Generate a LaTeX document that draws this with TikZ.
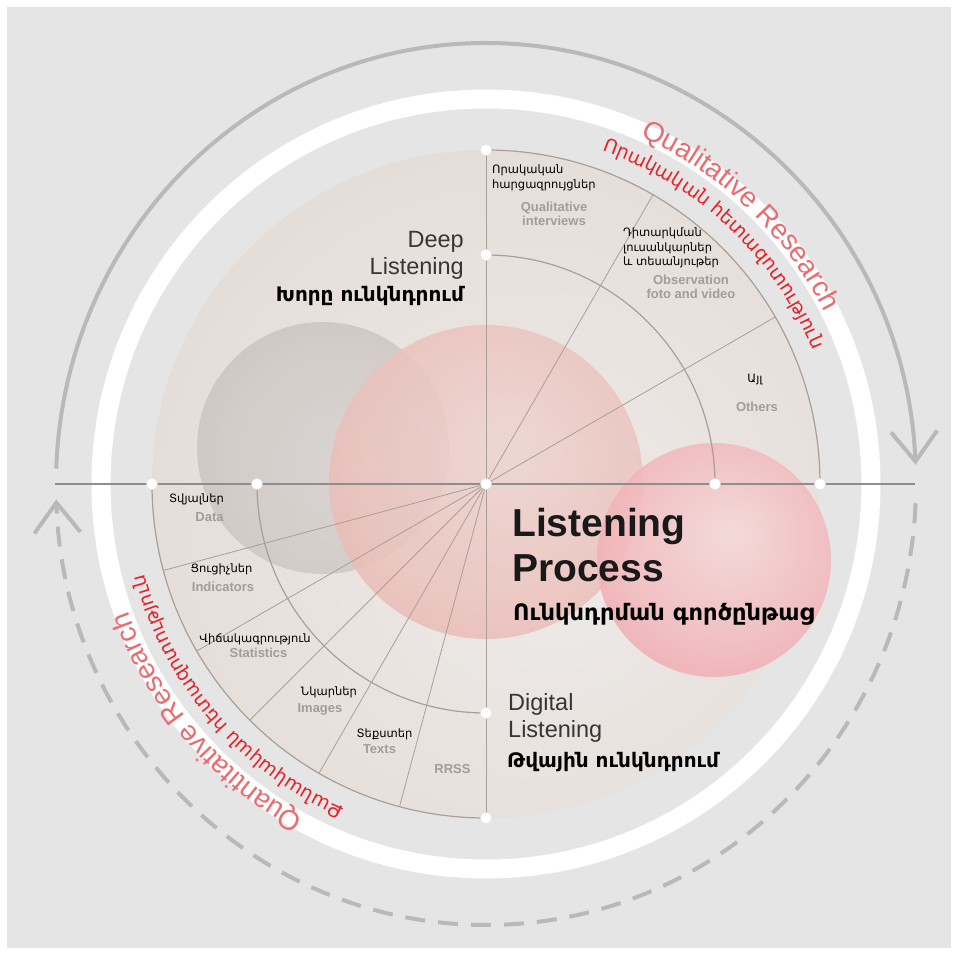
\documentclass[tikz,border=0pt]{standalone}
\usepackage{fontspec}
\setmainfont{Liberation Sans}
\newfontfamily\armfont{DejaVu Sans}
\usetikzlibrary{arrows.meta}
\usetikzlibrary{decorations.text}

\definecolor{bgGray}{HTML}{E5E5E5}
\definecolor{arcGray}{HTML}{B9B9B9}
\definecolor{axisGray}{HTML}{8E8E8E}
\definecolor{rayCol}{HTML}{AA9F97}
\definecolor{enGray}{HTML}{A39C97}
\definecolor{ttlGray}{HTML}{363636}
\definecolor{qualRed}{HTML}{EA6B70}
\definecolor{armRed}{HTML}{E62129}

\pgfdeclareradialshading{diskshade}{\pgfpoint{6bp}{-6bp}}{rgb(0bp)=(0.93,0.92,0.91); rgb(20bp)=(0.91,0.885,0.87); rgb(40bp)=(0.875,0.84,0.815); rgb(50bp)=(0.85,0.81,0.785)}
\pgfdeclareradialshading{graybub}{\pgfpoint{6bp}{-4bp}}{rgb(0bp)=(0.85,0.83,0.82); rgb(22bp)=(0.82,0.795,0.785); rgb(50bp)=(0.74,0.71,0.69)}
\pgfdeclareradialshading{pinkbub}{\pgfpoint{4bp}{6bp}}{rgb(0bp)=(0.935,0.835,0.815); rgb(24bp)=(0.925,0.76,0.74); rgb(50bp)=(0.89,0.61,0.60)}
\pgfdeclareradialshading{redbub}{\pgfpoint{4bp}{6bp}}{rgb(0bp)=(0.965,0.85,0.85); rgb(22bp)=(0.95,0.73,0.745); rgb(50bp)=(0.925,0.54,0.58)}

\begin{document}
\begin{tikzpicture}[x=1pt, y=1pt,
    wdot/.style={circle, fill=white, draw=black!8, line width=0.3pt, inner sep=0pt, minimum size=11pt},
    rayline/.style={draw=rayCol, line width=0.8pt},
    rimline/.style={draw=rayCol, line width=1.2pt},
    axisline/.style={draw=axisGray, line width=1.8pt},
    garrow/.style={draw=arcGray, line width=4pt, -{Straight Barb[length=30pt, width=46pt]}},
    ttl/.style={font=\fontsize{23.5}{27}\selectfont, text=ttlGray, inner sep=0pt},
    amttl/.style={font=\armfont\bfseries\fontsize{20}{22}\selectfont, inner sep=0pt},
    amlbl/.style={font=\armfont\fontsize{11.5}{14.5}\selectfont, inner sep=0pt, align=left},
    enlbl/.style={font=\bfseries\fontsize{13}{14}\selectfont, text=enGray, inner sep=0pt, align=center}
  ]
  \useasboundingbox (-486,-471) rectangle (471,484);
  \fill[white] (-486,-471) rectangle (471,484);
  \fill[bgGray] (-479,-464) rectangle (465,477);

  % ring and cycle arrows
  \draw[white, line width=19pt] (0,0) circle[radius=385];
  \draw[garrow] (178:430 and 441) arc[start angle=178, end angle=2.5, x radius=430, y radius=441];
  \draw[garrow, dash pattern=on 20pt off 13pt] (-2.5:430 and 441) arc[start angle=-2.5, end angle=-178, x radius=430, y radius=441];

  % disk and bubbles
  \shade[shading=diskshade] (0,0) circle[radius=334];
  \shade[shading=graybub, opacity=0.9] (-163,36) circle[radius=126];
  \shade[shading=pinkbub, opacity=0.85] (0,2) circle[radius=157];
  \shade[shading=redbub, opacity=0.88] (228,-76) circle[radius=117];

  \coordinate (ctr) at (0,0);
  \coordinate (qTop) at (90:334);
  \coordinate (qIn) at (90:229);
  \coordinate (rOut) at (0:334);
  \coordinate (rIn) at (0:229);
  \coordinate (lOut) at (180:334);
  \coordinate (lIn) at (180:229);
  \coordinate (bOut) at (270:334);
  \coordinate (bIn) at (270:229);
  \coordinate (axL) at (-431,0);
  \coordinate (axR) at (429,0);

  \draw[rayline] (qTop) -- (bOut);
  \foreach \a in {30,60,195,210,225,240,255} {
    \coordinate (ray\a) at (\a:334);
    \draw[rayline] (ctr) -- (ray\a);
  }
  \draw[rimline] (rOut) arc[start angle=0, end angle=90, radius=334];
  \draw[rimline] (rIn) arc[start angle=0, end angle=90, radius=229];
  \draw[rimline] (lOut) arc[start angle=180, end angle=270, radius=334];
  \draw[rimline] (lIn) arc[start angle=180, end angle=270, radius=229];
  \draw[axisline] (axL) -- (axR);
  \foreach \p in {ctr,qTop,qIn,rOut,rIn,lOut,lIn,bOut,bIn}
    \node[wdot] (d\p) at (\p) {};

  % titles
  \node[ttl, align=right, anchor=north east] (deep) at (-22,253) {Deep\\Listening};
  \node[amttl, anchor=east] (deepAm) at (-22,188) {Խորը ունկնդրում};
  \node[ttl, font=\bfseries\fontsize{39}{45}\selectfont, text=black!90, align=left, anchor=north west] (proc) at (26,-24) {Listening\\Process};
  \node[amttl, font=\armfont\bfseries\fontsize{22.6}{24}\selectfont, anchor=west] (procAm) at (27,-130) {Ունկնդրման գործընթաց};
  \node[ttl, align=left, anchor=north west] (dig) at (22,-209) {Digital\\Listening};
  \node[amttl, anchor=west] (digAm) at (21,-278) {Թվային ունկնդրում};

  % sector labels
  \node[amlbl, anchor=north west] (qiAm) at (6,319) {Որակական\\հարցազրույցներ};
  \node[enlbl, anchor=north] (qiEn) at (68,282) {Qualitative\\interviews};
  \node[amlbl, anchor=north west] (obAm) at (137,256) {Դիտարկման\\լուսանկարներ\\և տեսանյութեր};
  \node[enlbl, anchor=north] (obEn) at (205,209) {Observation\\foto and video};
  \node[amlbl] (otAm) at (269,104) {Այլ};
  \node[enlbl] (otEn) at (271,77) {Others};
  \node[amlbl] (daAm) at (-289.5,-15) {Տվյալներ};
  \node[enlbl] (daEn) at (-276.5,-33) {Data};
  \node[amlbl] (inAm) at (-264.5,-85) {Ցուցիչներ};
  \node[enlbl] (inEn) at (-263,-103) {Indicators};
  \node[amlbl] (stAm) at (-231,-155) {Վիճակագրություն};
  \node[enlbl] (stEn) at (-227.5,-169) {Statistics};
  \node[amlbl] (imAm) at (-157,-208) {Նկարներ};
  \node[enlbl] (imEn) at (-166,-225) {Images};
  \node[amlbl] (txAm) at (-101.5,-250) {Տեքստեր};
  \node[enlbl] (txEn) at (-106.5,-265) {Texts};
  \node[enlbl] (rrEn) at (-33.5,-285) {RRSS};

  % curved labels on the ring
  \path[decorate, decoration={text along path, text align=center,
      text={|\fontsize{28}{28}\selectfont\color{qualRed}|Qualitative Research}}]
    (86.5:380) arc[start angle=86.5, end angle=6.5, radius=380];
  \path[decorate, decoration={text along path, text align=center,
      text={|\armfont\fontsize{19}{19}\selectfont\color{armRed}|Որակական հետազոտություն}}]
    (96.5:353) arc[start angle=96.5, end angle=-3.5, radius=353];
  \path[decorate, decoration={text along path, text align=center,
      text={|\fontsize{28}{28}\selectfont\color{qualRed}|Quantitative Research}}]
    (260.5:380) arc[start angle=260.5, end angle=180.5, radius=380];
  \path[decorate, decoration={text along path, text align=center,
      text={|\armfont\fontsize{19}{19}\selectfont\color{armRed}|Քանակական հետազոտություն}}]
    (270.5:353) arc[start angle=270.5, end angle=170.5, radius=353];
\end{tikzpicture}
\end{document}
